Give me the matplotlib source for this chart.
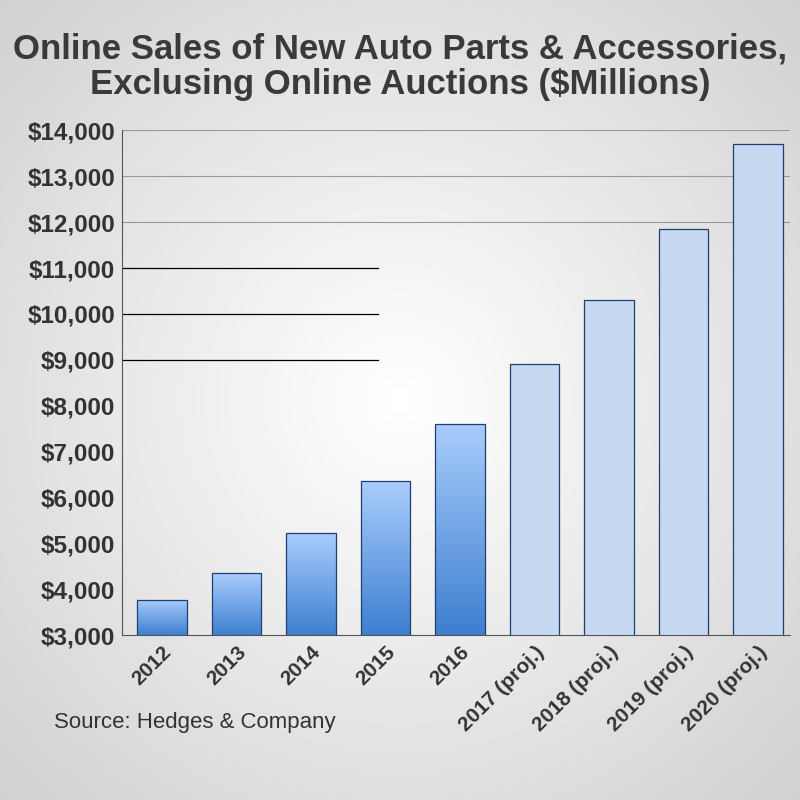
import numpy as np
import matplotlib
matplotlib.use("Agg")
import matplotlib.pyplot as plt
from matplotlib import font_manager

years = ["2012", "2013", "2014", "2015", "2016",
         "2017 (proj.)", "2018 (proj.)", "2019 (proj.)", "2020 (proj.)"]
sales = [3770, 4350, 5220, 6350, 7600, 8900, 10300, 11850, 13700]
projected = [False] * 5 + [True] * 4
y_ticks = list(range(3000, 15000, 1000))

names = {f.name for f in font_manager.fontManager.ttflist}
narrow = "Liberation Sans Narrow" if "Liberation Sans Narrow" in names else "Liberation Sans"
plt.rcParams["font.family"] = [narrow, "DejaVu Sans"]

fig = plt.figure(figsize=(8, 8), dpi=100)

# radial background
bg = fig.add_axes([0, 0, 1, 1])
yy, xx = np.mgrid[-1:1:400j, -1:1:400j]
r = np.sqrt(xx ** 2 + yy ** 2)
bg.imshow(1 - 0.18 * np.clip(r / 1.4, 0, 1), cmap="gray", vmin=0, vmax=1,
          extent=[0, 1, 0, 1], aspect="auto")
bg.axis("off")

ax = fig.add_axes([0.1525, 0.206, 0.835, 0.631])
ax.patch.set_alpha(0)
x = np.arange(len(years))
xl = (-0.537, 8.43)

for level in (12000, 13000, 14000):
    ax.axhline(level, color="#9a9a9a", lw=0.8, zorder=0)
for level in (9000, 10000, 11000):
    ax.plot([xl[0], 2.9], [level, level], color="black", lw=0.9, zorder=0)

grad = np.linspace(0, 1, 256).reshape(-1, 1)
cmap = matplotlib.colors.LinearSegmentedColormap.from_list(
    "b", ["#3d7fd0", "#a9cdfc"])
bars = ax.bar(x, sales, width=0.67, bottom=0, zorder=2,
              color=["#c6d9f1" if p else "none" for p in projected],
              edgecolor="#1f3f6e", linewidth=0.9)
for b, p in zip(bars, projected):
    if not p:
        x0, x1 = b.get_x(), b.get_x() + b.get_width()
        im = ax.imshow(grad, cmap=cmap, extent=[x0, x1, 3000, b.get_height()],
                       origin="lower", aspect="auto", zorder=1.5)
        im.set_clip_path(b)
ax.set_xlim(*xl)
ax.set_ylim(3000, 14000)

ax.set_yticks(y_ticks)
ax.set_yticklabels([f"${v:,}" for v in y_ticks], fontsize=17.5, fontweight="bold",
                   color="#333333")
ax.set_xticks(x)
ax.set_xticklabels(years, rotation=45, ha="right", rotation_mode="anchor",
                   fontsize=15, fontweight="bold", color="#333333")
ax.tick_params(length=0, pad=5)
for s in ("top", "right"):
    ax.spines[s].set_visible(False)
for s in ("left", "bottom"):
    ax.spines[s].set_color("#555555")

fig.text(0.5, 0.96, "Online Sales of New Auto Parts & Accessories,\nExclusing Online Auctions ($Millions)",
         ha="center", va="top", fontsize=25, fontweight="bold", color="#3a3a3a",
         linespacing=1.1)
fig.text(0.068, 0.09, "Source: Hedges & Company", fontsize=16, color="#333333")

fig.savefig("out.png", dpi=100)
